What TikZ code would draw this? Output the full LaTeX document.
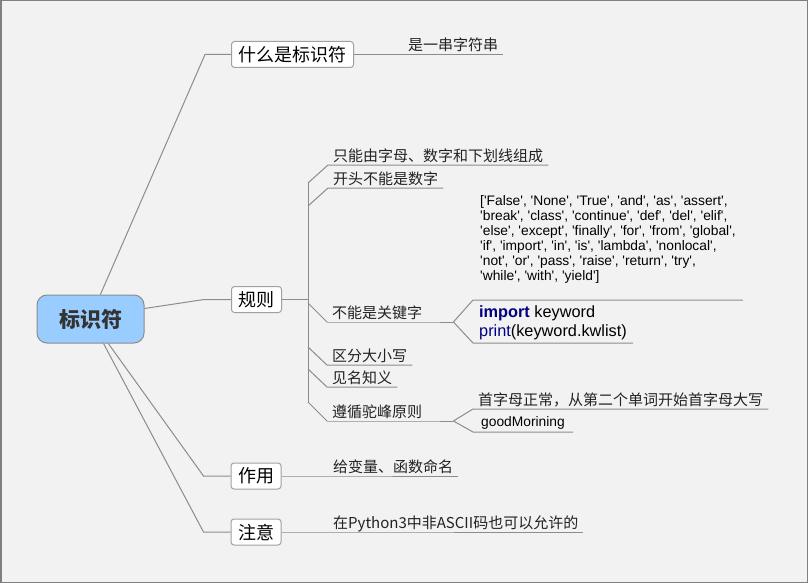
\documentclass[tikz,border=0pt]{standalone}
\usepackage{fontspec}
\setmainfont{Liberation Sans}
\newfontfamily\cjk{Noto Sans CJK SC}
\newfontfamily\lsans{Liberation Sans}[Ligatures=TeXOff]
\definecolor{bgc}{HTML}{F2F2F2}
\definecolor{framec}{HTML}{808080}
\definecolor{linec}{HTML}{8C8C8C}
\definecolor{boxc}{HTML}{A0A0A0}
\definecolor{rootc}{HTML}{99CCFF}
\definecolor{navyc}{HTML}{000080}
\definecolor{txtc}{HTML}{222222}
\tikzset{
  conn/.style={draw=linec, line width=1pt},
  rootbox/.style={draw=linec, line width=1pt, fill=rootc, rounded corners=10pt,
    minimum width=107pt, minimum height=48pt, inner sep=0pt, text=black!80,
    font=\cjk\fontsize{21}{21}\selectfont\bfseries},
  topic/.style={draw=boxc, line width=1pt, fill=white, rounded corners=3pt,
    minimum height=26pt, inner xsep=7pt, inner ysep=0pt, text=black,
    font=\cjk\fontsize{18}{18}\selectfont},
  leaf/.style={anchor=south west, inner xsep=5pt, inner ysep=0pt,
    text height=12pt, text depth=3.5pt, text=txtc,
    font=\cjk\fontsize{15}{15}\selectfont},
  latinleaf/.style={anchor=south west, inner xsep=8pt, inner ysep=0pt,
    text height=10pt, text depth=5.3pt, text=black,
    font=\lsans\fontsize{13.8}{15}\selectfont},
  kwlist/.style={anchor=south west, inner xsep=7pt, inner ysep=0pt, align=left,
    text depth=19pt, text=black, font=\lsans\fontsize{13.8}{15}\selectfont},
  codebox/.style={anchor=south west, inner xsep=6pt, inner ysep=0pt, align=left,
    text depth=6.5pt, text=black, font=\lsans\fontsize{16.3}{18.5}\selectfont},
}
\begin{document}
\begin{tikzpicture}[x=1pt,y=-1pt]
\useasboundingbox (0,0) rectangle (808,583);
\fill[bgc] (0,0) rectangle (808,583);
\draw[framec, line width=1.5pt] (0.75,0.75) rectangle (807.25,582.25);

% root and main topics
\node[rootbox] (root) at (90.5,319) {标识符};
\node[topic] (t1) at (292.5,54.5) {什么是标识符};
\node[topic] (t2) at (256.5,299.5) {规则};
\node[topic] (t3) at (256,476) {作用};
\node[topic] (t4) at (256,532) {注意};

\draw[conn] (root.68) -- ([xshift=-26pt]t1.west) -- (t1.west);
\draw[conn] (root.11) -- ([xshift=-27pt]t2.west) -- (t2.west);
\draw[conn] (root.-54) -- ([xshift=-27pt]t3.west) -- (t3.west);
\draw[conn] (root.-62) -- ([xshift=-27pt]t4.west) -- (t4.west);

% leaf of t1
\node[leaf] (l1) at (403,54.5) {是一串字符串};
\draw[conn] (t1.east) -- (l1.south west) -- (l1.south east);

% children of t2
\node[leaf] (r1) at (328,165) {只能由字母、数字和下划线组成};
\node[leaf] (r2) at (328,188) {开头不能是数字};
\node[leaf] (r3) at (327,322) {不能是关键字};
\node[leaf] (r4) at (327,365) {区分大小写};
\node[leaf] (r5) at (327,387) {见名知义};
\node[leaf] (r6) at (327,421) {遵循驼峰原则};

\draw[conn] (r1.south east) -- (r1.south west) -- ++(-20,18) coordinate (s1);
\draw[conn] (r2.south east) -- (r2.south west) -- ++(-20,18) coordinate (s2);
\draw[conn] (r3.south west) -- ++(-19,-19) coordinate (s3);
\draw[conn] (r4.south east) -- (r4.south west) -- ++(-19,-18) coordinate (s4);
\draw[conn] (r5.south east) -- (r5.south west) -- ++(-19,-18) coordinate (s5);
\draw[conn] (r6.south west) -- ++(-19,-19) coordinate (s6);
\draw[conn] (s1) -- (s6);
\draw[conn] (t2.east) -- (s1 |- t2.east);

% children of r3
\draw[conn] (r3.south west) -- (r3.south east) -- ++(26,0) coordinate (b3);
\node[kwlist] (k1) at (473,300) {['False', 'None', 'True', 'and', 'as', 'assert',\\
'break', 'class', 'continue', 'def', 'del', 'elif',\\
'else', 'except', 'finally', 'for', 'from', 'global',\\
'if', 'import', 'in', 'is', 'lambda', 'nonlocal',\\
'not', 'or', 'pass', 'raise', 'return', 'try',\\
'while', 'with', 'yield']};
\node[codebox] (k2) at (473,343) {{\bfseries\color{navyc}import} keyword\\
{\color{navyc}print}(keyword.kwlist)};
\draw[conn] (b3) -- (k1.south west) -- (k1.south east);
\draw[conn] (b3) -- (k2.south west) -- (k2.south east);

% children of r6
\draw[conn] (r6.south west) -- (r6.south east) -- ++(26,0) coordinate (b6);
\node[leaf] (h1) at (473,409) {首字母正常，从第二个单词开始首字母大写};
\node[latinleaf] (h2) at (473,432) {goodMorining};
\draw[conn] (b6) -- (h1.south west) -- (h1.south east);
\draw[conn] (b6) -- (h2.south west) -- (h2.south east);

% leaves of t3, t4
\node[leaf] (z1) at (328,476) {给变量、函数命名};
\draw[conn] (t3.east) -- (z1.south west) -- (z1.south east);
\node[leaf] (y1) at (328,532) {在Python3中非ASCII码也可以允许的};
\draw[conn] (t4.east) -- (y1.south west) -- (y1.south east);
\end{tikzpicture}
\end{document}
